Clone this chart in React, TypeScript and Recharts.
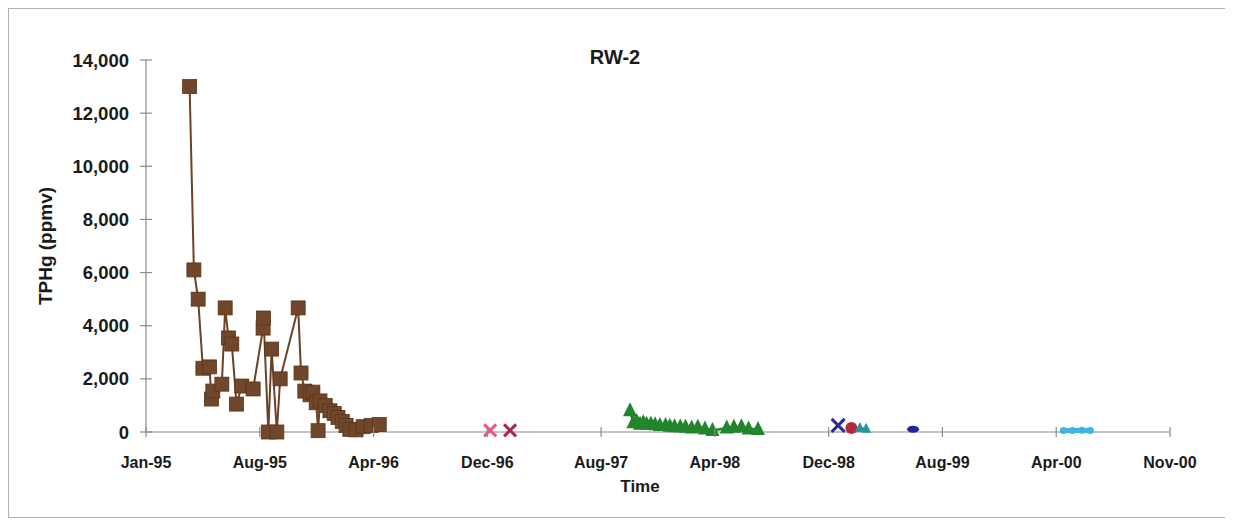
import React from 'react';
import { ScatterChart, Scatter, XAxis, YAxis } from 'recharts';

const toT = (s: string) => Date.parse(s + 'T00:00:00Z');

// X axis ticks (Excel date axis, 240-day major unit)
const xTickDates = ['1995-01-01', '1995-08-29', '1996-04-25', '1996-12-21', '1997-08-18', '1998-04-15', '1998-12-11', '1999-08-08', '2000-04-04', '2000-11-30'];
const xTickLabels = ['Jan-95', 'Aug-95', 'Apr-96', 'Dec-96', 'Aug-97', 'Apr-98', 'Dec-98', 'Aug-99', 'Apr-00', 'Nov-00'];
const yTicks = [0, 2000, 4000, 6000, 8000, 10000, 12000, 14000];

// Series 1 (brown squares)
const brownDates = ['1995-04-03', '1995-04-12', '1995-04-21', '1995-05-01', '1995-05-15', '1995-05-19', '1995-05-22', '1995-06-10', '1995-06-17', '1995-06-24', '1995-07-01', '1995-07-11', '1995-07-22', '1995-08-15', '1995-09-05', '1995-09-06', '1995-09-16', '1995-09-23', '1995-10-04', '1995-10-11', '1995-11-18', '1995-11-24', '1995-12-02', '1995-12-13', '1995-12-19', '1995-12-26', '1995-12-30', '1996-01-03', '1996-01-14', '1996-01-24', '1996-02-02', '1996-02-10', '1996-02-19', '1996-02-27', '1996-03-06', '1996-03-19', '1996-04-03', '1996-04-20', '1996-05-07'];
const brownValues = [13000, 6100, 5000, 2400, 2450, 1240, 1540, 1800, 4670, 3540, 3310, 1050, 1730, 1620, 3910, 4290, 0, 3120, 0, 2000, 4670, 2220, 1540, 1400, 1500, 1100, 50, 1170, 1000, 800, 700, 550, 400, 250, 100, 80, 200, 250, 280];

// Series 2 (pink crosses)
const pinkDates = ['1996-12-27'];
const pinkValues = [60];
const crimsonDates = ['1997-02-07'];
const crimsonValues = [60];

// Series 3 (green triangles)
const greenDates = ['1997-10-18', '1997-10-25', '1997-11-01', '1997-11-08', '1997-11-15', '1997-11-22', '1997-12-01', '1997-12-10', '1997-12-20', '1998-01-01', '1998-01-10', '1998-01-20', '1998-02-01', '1998-02-12', '1998-02-25', '1998-03-10', '1998-03-25', '1998-04-10', '1998-05-10', '1998-05-25', '1998-06-10', '1998-06-25', '1998-07-15'];
const greenValues = [800, 350, 400, 300, 350, 300, 300, 280, 250, 250, 220, 200, 200, 180, 150, 180, 120, 60, 150, 180, 200, 120, 100];

// Late series
const navyDates = ['1998-12-31'];
const navyValues = [250];
const redDates = ['1999-01-28'];
const redValues = [150];
const tealDates = ['1999-02-15', '1999-02-28'];
const tealValues = [150, 120];
const blueDates = ['1999-06-07'];
const blueValues = [100];
const cyanDates = ['2000-04-19', '2000-05-08', '2000-05-28', '2000-06-15'];
const cyanValues = [60, 60, 70, 60];

const mk = (dates: string[], values: number[]) => dates.map((d, i) => ({ t: toT(d), v: values[i] }));

const xTicks = xTickDates.map(toT);
const FONT = '"Liberation Sans", Arial, sans-serif';

const square = (fill: string, size: number) => (p: any) => (
  <rect x={p.cx - size / 2} y={p.cy - size / 2} width={size} height={size} fill={fill} stroke="#5a3518" strokeWidth={0.8} />
);
const triangle = (fill: string, size: number) => (p: any) => (
  <polygon points={`${p.cx},${p.cy - size * 0.6} ${p.cx - size / 2},${p.cy + size * 0.4} ${p.cx + size / 2},${p.cy + size * 0.4}`} fill={fill} />
);
const xMark = (stroke: string, size: number) => (p: any) => (
  <g stroke={stroke} strokeWidth={3}>
    <line x1={p.cx - size / 2} y1={p.cy - size / 2} x2={p.cx + size / 2} y2={p.cy + size / 2} />
    <line x1={p.cx - size / 2} y1={p.cy + size / 2} x2={p.cx + size / 2} y2={p.cy - size / 2} />
  </g>
);
const circle = (fill: string, r: number) => (p: any) => <circle cx={p.cx} cy={p.cy} r={r} fill={fill} />;
const ellipse = (fill: string) => (p: any) => <ellipse cx={p.cx} cy={p.cy} rx={6} ry={3.5} fill={fill} />;

const XTick = (props: any) => {
  const { x, y, payload } = props;
  const idx = xTicks.indexOf(payload.value);
  return (
    <g>
      <line x1={x} x2={x} y1={y - 5} y2={y + 5} stroke="#8a8a8a" strokeWidth={1.2} />
      <text x={x} y={y + 36} textAnchor="middle" fontFamily={FONT} fontWeight="bold" fontSize={16} fill="#1a1a1a">
        {idx >= 0 ? xTickLabels[idx] : ''}
      </text>
    </g>
  );
};

const YTick = (props: any) => {
  const { x, y, payload } = props;
  return (
    <g>
      <line x1={x - 6} x2={x + 6} y1={y} y2={y} stroke="#8a8a8a" strokeWidth={1.2} />
      <text x={x - 17} y={y + 6.5} textAnchor="end" fontFamily={FONT} fontWeight="bold" fontSize={18.5} fill="#1a1a1a">
        {Number(payload.value).toLocaleString('en-US')}
      </text>
    </g>
  );
};

export default function App() {
  return (
    <div style={{ position: 'relative', width: 1220, height: 508, border: '1px solid #b0b0b0', background: '#fff' }}>
      <ScatterChart width={1220} height={508} margin={{ top: 51, right: 59, left: 0, bottom: 35 }}>
        <XAxis
          type="number"
          dataKey="t"
          domain={[xTicks[0], xTicks[xTicks.length - 1]]}
          ticks={xTicks}
          tick={<XTick />}
          tickSize={0}
          tickMargin={0}
          tickLine={false}
          axisLine={{ stroke: '#8a8a8a', strokeWidth: 1.2 }}
          height={50}
          allowDataOverflow
        />
        <YAxis
          type="number"
          dataKey="v"
          domain={[0, 14000]}
          ticks={yTicks}
          tick={<YTick />}
          tickSize={0}
          tickMargin={0}
          tickLine={false}
          axisLine={{ stroke: '#8a8a8a', strokeWidth: 1.2 }}
          width={137}
        />
        <Scatter data={mk(brownDates, brownValues)} line={{ stroke: '#6b4226', strokeWidth: 2 }} lineType="joint" shape={square('#70472a', 14)} isAnimationActive={false} />
        <Scatter data={mk(pinkDates, pinkValues)} shape={xMark('#e8588c', 12)} isAnimationActive={false} />
        <Scatter data={mk(crimsonDates, crimsonValues)} shape={xMark('#a8285a', 12)} isAnimationActive={false} />
        <Scatter data={mk(greenDates, greenValues)} line={{ stroke: '#22852c', strokeWidth: 2.5 }} lineType="joint" shape={triangle('#22852c', 14)} isAnimationActive={false} />
        <Scatter data={mk(navyDates, navyValues)} shape={xMark('#2c2c8c', 13)} isAnimationActive={false} />
        <Scatter data={mk(redDates, redValues)} shape={circle('#b52a3a', 6)} isAnimationActive={false} />
        <Scatter data={mk(tealDates, tealValues)} line={{ stroke: '#2398a0', strokeWidth: 2 }} lineType="joint" shape={triangle('#2398a0', 10)} isAnimationActive={false} />
        <Scatter data={mk(blueDates, blueValues)} shape={ellipse('#22229a')} isAnimationActive={false} />
        <Scatter data={mk(cyanDates, cyanValues)} line={{ stroke: '#3eb6df', strokeWidth: 5 }} lineType="joint" shape={circle('#3eb6df', 3.5)} isAnimationActive={false} />
      </ScatterChart>
      <div style={{ position: 'absolute', left: 0, width: 1212, top: 37, textAlign: 'center', fontFamily: FONT, fontWeight: 'bold', fontSize: 20, color: '#1a1a1a' }}>RW-2</div>
      <div style={{ position: 'absolute', left: 0, width: 1262, top: 468, textAlign: 'center', fontFamily: FONT, fontWeight: 'bold', fontSize: 17, color: '#1a1a1a' }}>Time</div>
      <div style={{ position: 'absolute', left: 37, top: 237, width: 0, height: 0 }}>
        <div style={{ position: 'absolute', transform: 'translate(-50%, -50%) rotate(-90deg)', whiteSpace: 'nowrap', fontFamily: FONT, fontWeight: 'bold', fontSize: 19, color: '#1a1a1a' }}>TPHg (ppmv)</div>
      </div>
    </div>
  );
}
